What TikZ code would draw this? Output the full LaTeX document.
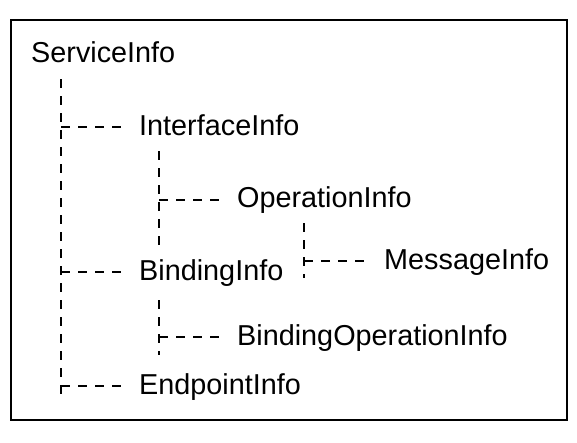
\documentclass[tikz,border=0pt]{standalone}
\usepackage{fontspec}
\setmainfont{Liberation Sans}
\begin{document}
\begin{tikzpicture}[x=1pt,y=-1pt,
  lbl/.style={anchor=base west,inner sep=0pt,font=\fontsize{28.8}{30}\selectfont},
  tree/.style={line width=2.4pt,dash pattern=on 9pt off 8pt}]
\useasboundingbox (0,0) rectangle (577,442);
\draw[line width=2.6pt] (11,20) rectangle (567,420);
\node[lbl] (svc) at (31,62) {ServiceInfo};
\node[lbl] (intf) at (139,135) {InterfaceInfo};
\node[lbl] (oper) at (237,207) {OperationInfo};
\node[lbl] (msg) at (384,269) {MessageInfo};
\node[lbl] (bind) at (139,280) {BindingInfo};
\node[lbl] (bop) at (237,345) {BindingOperationInfo};
\node[lbl] (endp) at (139,394) {EndpointInfo};
% trunks
\coordinate (t1a) at (61,79);  \coordinate (t1b) at (61,397);
\coordinate (t2a) at (159,151); \coordinate (t2b) at (159,247);
\coordinate (t3a) at (304,223); \coordinate (t3b) at (304,278);
\coordinate (t4a) at (159,300); \coordinate (t4b) at (159,355);
\draw[tree] (t1a) -- (t1b);
\draw[tree] (t2a) -- (t2b);
\draw[tree] (t3a) -- (t3b);
\draw[tree] (t4a) -- (t4b);
% branches
\draw[tree] (t1a |- 0,127) -- ([xshift=-16pt,yshift=8pt]intf.base west);
\draw[tree] (t1a |- 0,272) -- ([xshift=-16pt,yshift=8pt]bind.base west);
\draw[tree] (t1a |- 0,386) -- ([xshift=-16pt,yshift=8pt]endp.base west);
\draw[tree] (t2a |- 0,200) -- ([xshift=-16pt,yshift=7pt]oper.base west);
\draw[tree] (t3a |- 0,261) -- ([xshift=-18pt,yshift=8pt]msg.base west);
\draw[tree] (t4a |- 0,337) -- ([xshift=-16pt,yshift=8pt]bop.base west);
\end{tikzpicture}
\end{document}
